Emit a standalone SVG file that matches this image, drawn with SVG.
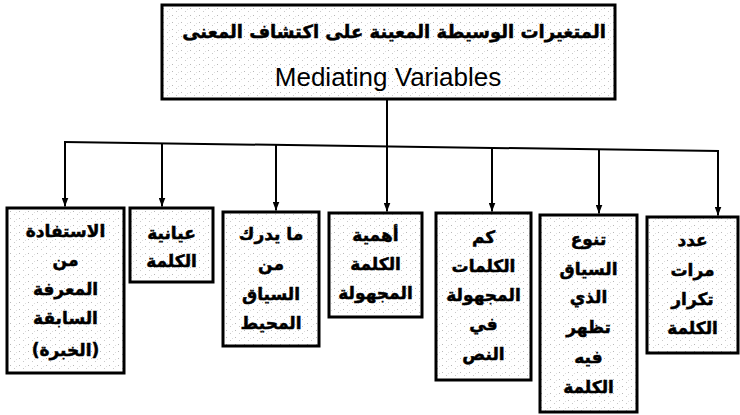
<svg xmlns="http://www.w3.org/2000/svg" width="740" height="415" viewBox="0 0 740 415">
  <defs>
    <!-- light speckled paper fill used inside every box -->
    <pattern id="speckle" width="9" height="7" patternUnits="userSpaceOnUse">
      <rect width="9" height="7" fill="#ffffff"/>
      <rect x="1" y="1" width="1" height="1" fill="#b8b8b8"/>
      <rect x="5" y="4" width="1" height="1" fill="#c8c8c8"/>
      <rect x="7" y="2" width="1" height="1" fill="#dddddd"/>
    </pattern>
    <marker id="arrow" viewBox="0 0 9 7" refX="9" refY="3.5" markerWidth="9" markerHeight="7" markerUnits="userSpaceOnUse" orient="auto">
      <path d="M0,0 L9,3.5 L0,7 z" fill="#000"/>
    </marker>
  </defs>
  <style>
    .box { fill: url(#speckle); stroke: #000; stroke-width: 3; }
    .ar { font-family: "DejaVu Sans", "Noto Sans", sans-serif; font-weight: bold; font-size: 17px; fill: #000; stroke: #000; stroke-width: 0.5; text-anchor: middle; direction: rtl; }
    .title-ar { font-size: 18px; }
    .en { font-family: "Liberation Sans", Arial, sans-serif; font-size: 26px; fill: #000; text-anchor: middle; }
    .link { fill: none; stroke: #000; stroke-width: 2; }
    .drop { fill: none; stroke: #000; stroke-width: 2; marker-end: url(#arrow); }
  </style>

  <rect width="740" height="415" fill="#ffffff"/>

  <!-- connectors: trunk, distribution bus and drops -->
  <g id="connectors">
    <line class="link" x1="387" y1="99" x2="387" y2="146.4"/>
    <line class="link" x1="64" y1="142" x2="719" y2="151"/>
    <line class="drop" x1="65" y1="142" x2="65" y2="206.5"/>
    <line class="drop" x1="162" y1="143.3" x2="162" y2="206.5"/>
    <line class="drop" x1="276" y1="144.9" x2="276" y2="210.5"/>
    <line class="drop" x1="387" y1="146.4" x2="387" y2="211.5"/>
    <line class="drop" x1="492" y1="147.9" x2="492" y2="211.5"/>
    <line class="drop" x1="599" y1="149.4" x2="599" y2="213.5"/>
    <line class="drop" x1="718" y1="151" x2="718" y2="215.5"/>
  </g>

  <!-- root node -->
  <g id="root">
    <rect class="box" x="162" y="5" width="453" height="94"/>
    <text class="ar title-ar" x="394" y="38">المتغيرات الوسيطة المعينة على اكتشاف المعنى</text>
    <text class="en" x="388" y="86">Mediating Variables</text>
  </g>

  <g id="prior-knowledge">
    <rect class="box" x="7" y="208" width="117" height="165"/>
    <text class="ar" x="65.5" y="237">الاستفادة</text>
    <text class="ar" x="65.5" y="266">من</text>
    <text class="ar" x="65.5" y="295">المعرفة</text>
    <text class="ar" x="65.5" y="324">السابقة</text>
    <text class="ar" x="65.5" y="356">(الخبرة)</text>
  </g>

  <g id="concreteness">
    <rect class="box" x="130" y="208" width="83" height="74"/>
    <text class="ar" x="171.5" y="239">عيانية</text>
    <text class="ar" x="171.5" y="267">الكلمة</text>
  </g>

  <g id="surrounding-context">
    <rect class="box" x="223" y="212" width="96" height="134"/>
    <text class="ar" x="271" y="240">ما يدرك</text>
    <text class="ar" x="271" y="270">من</text>
    <text class="ar" x="271" y="300">السياق</text>
    <text class="ar" x="271" y="329">المحيط</text>
  </g>

  <g id="word-importance">
    <rect class="box" x="329" y="213" width="93" height="104"/>
    <text class="ar" x="375.5" y="241">أهمية</text>
    <text class="ar" x="375.5" y="270">الكلمة</text>
    <text class="ar" x="375.5" y="299">المجهولة</text>
  </g>

  <g id="unknown-count">
    <rect class="box" x="436" y="213" width="95" height="167"/>
    <text class="ar" x="483.5" y="243">كم</text>
    <text class="ar" x="483.5" y="272">الكلمات</text>
    <text class="ar" x="483.5" y="301">المجهولة</text>
    <text class="ar" x="483.5" y="330">في</text>
    <text class="ar" x="483.5" y="360">النص</text>
  </g>

  <g id="context-variety">
    <rect class="box" x="540" y="215" width="97" height="197"/>
    <text class="ar" x="588.5" y="245">تنوع</text>
    <text class="ar" x="588.5" y="275">السياق</text>
    <text class="ar" x="588.5" y="303">الذي</text>
    <text class="ar" x="588.5" y="333">تظهر</text>
    <text class="ar" x="588.5" y="363">فيه</text>
    <text class="ar" x="588.5" y="393">الكلمة</text>
  </g>

  <g id="repetition">
    <rect class="box" x="647" y="217" width="91" height="136"/>
    <text class="ar" x="692.5" y="246">عدد</text>
    <text class="ar" x="692.5" y="276">مرات</text>
    <text class="ar" x="692.5" y="305">تكرار</text>
    <text class="ar" x="692.5" y="334">الكلمة</text>
  </g>
</svg>
